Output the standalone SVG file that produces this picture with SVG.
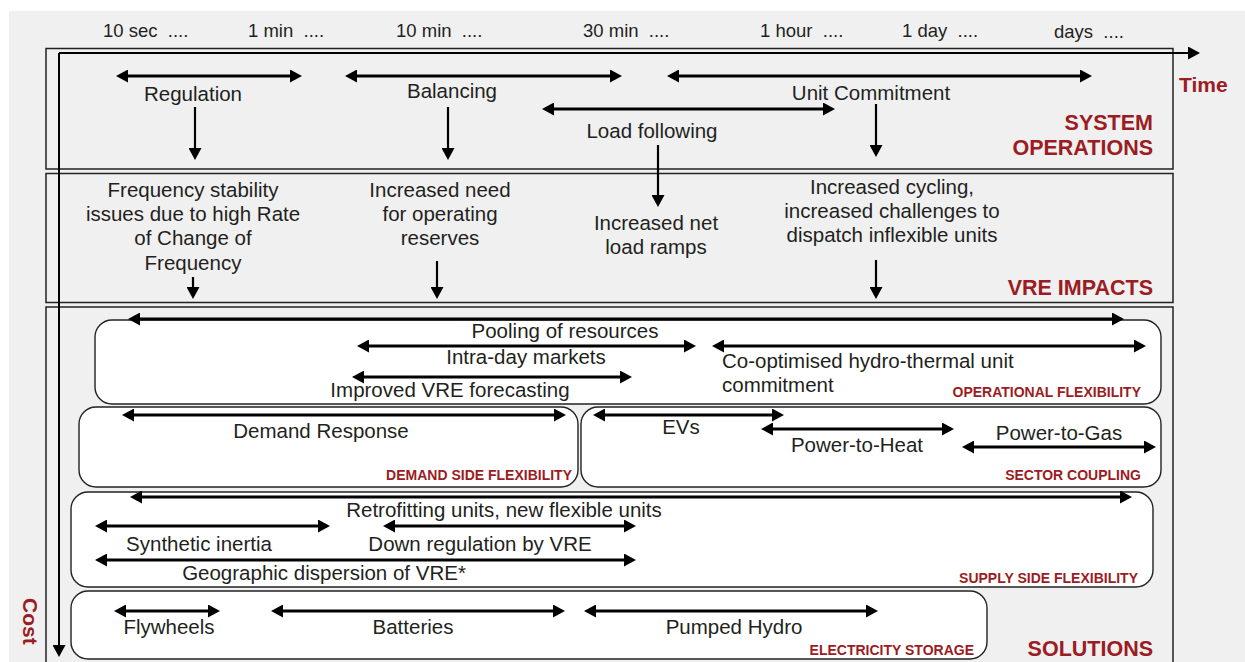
<svg xmlns="http://www.w3.org/2000/svg" width="1245" height="662" viewBox="0 0 1245 662">
  <style>
    .bg { fill: #f0f0f0; }
    .section { fill: #f0f0f0; stroke: #222; stroke-width: 1.5; }
    .panel { fill: #ffffff; stroke: #222; stroke-width: 1.4; }
    .t { font-family: "Liberation Sans", Arial, sans-serif; font-size: 20.5px; fill: #231f20; }
    .tick { font-family: "Liberation Sans", Arial, sans-serif; font-size: 18.5px; fill: #231f20; }
    .mid { text-anchor: middle; }
    .head { font-family: "Liberation Sans", Arial, sans-serif; font-weight: bold; font-size: 21.5px; fill: #9b1c22; text-anchor: end; }
    .tag { font-family: "Liberation Sans", Arial, sans-serif; font-weight: bold; font-size: 14px; fill: #9b1c22; text-anchor: end; }
    .axislabel { font-family: "Liberation Sans", Arial, sans-serif; font-weight: bold; font-size: 21px; fill: #9b1c22; }
    .arr { stroke: #000; stroke-width: 2.8; fill: none; marker-end: url(#ah); }
    .both { marker-start: url(#ah); }
    .down { stroke: #000; stroke-width: 2.2; fill: none; marker-end: url(#ah); }
    .axis { stroke: #000; stroke-width: 2; fill: none; marker-end: url(#ah); }
  </style>
  <defs>
    <marker id="ah" viewBox="0 0 12 13" refX="2" refY="6.5" markerWidth="12" markerHeight="13" markerUnits="userSpaceOnUse" orient="auto-start-reverse">
      <path d="M0,0 L12,6.5 L0,13 z" fill="#000"/>
    </marker>
  </defs>

  <rect class="bg" x="9" y="11" width="1236" height="651"/>

  <!-- time scale -->
  <g id="time-scale">
    <text class="tick" x="103" y="37">10 sec&#160; ....</text>
    <text class="tick" x="248" y="37">1 min&#160; ....</text>
    <text class="tick" x="396" y="37">10 min&#160; ....</text>
    <text class="tick" x="583" y="37">30 min&#160; ....</text>
    <text class="tick" x="760" y="37">1 hour&#160; ....</text>
    <text class="tick" x="902" y="37">1 day&#160; ....</text>
    <text class="tick" x="1054" y="38">days&#160; ....</text>
  </g>

  <!-- sections -->
  <g id="system-operations">
    <rect class="section" x="46" y="48.5" width="1127" height="120.5"/>
    <text class="head" x="1153" y="130">SYSTEM</text>
    <text class="head" x="1153" y="155">OPERATIONS</text>
    <text class="t mid" x="193" y="101">Regulation</text>
    <text class="t mid" x="452" y="98">Balancing</text>
    <text class="t mid" x="871" y="100">Unit Commitment</text>
    <text class="t mid" x="652" y="138">Load following</text>
  </g>

  <g id="vre-impacts">
    <rect class="section" x="46" y="173.5" width="1127" height="129"/>
    <text class="head" x="1153" y="295">VRE IMPACTS</text>
    <text class="t mid" x="193" y="197">Frequency stability</text>
    <text class="t mid" x="193" y="221">issues due to high Rate</text>
    <text class="t mid" x="193" y="245">of Change of</text>
    <text class="t mid" x="193" y="270">Frequency</text>
    <text class="t mid" x="440" y="197">Increased need</text>
    <text class="t mid" x="440" y="221">for operating</text>
    <text class="t mid" x="440" y="245">reserves</text>
    <text class="t mid" x="656" y="230">Increased net</text>
    <text class="t mid" x="656" y="254">load ramps</text>
    <text class="t mid" x="892" y="194">Increased cycling,</text>
    <text class="t mid" x="892" y="218">increased challenges to</text>
    <text class="t mid" x="892" y="242">dispatch inflexible units</text>
  </g>

  <g id="solutions">
    <rect class="section" x="46" y="307" width="1127" height="365"/>
    <text class="head" x="1153" y="656">SOLUTIONS</text>
  </g>

  <g id="operational-flexibility">
    <rect class="panel" x="95" y="320" width="1066" height="84" rx="17"/>
    <text class="t mid" x="565" y="338">Pooling of resources</text>
    <text class="t mid" x="526" y="364">Intra-day markets</text>
    <text class="t mid" x="450" y="397">Improved VRE forecasting</text>
    <text class="t" x="722" y="368">Co-optimised hydro-thermal unit</text>
    <text class="t" x="722" y="392">commitment</text>
    <text class="tag" x="1141" y="397">OPERATIONAL FLEXIBILITY</text>
  </g>

  <g id="demand-side-flexibility">
    <rect class="panel" x="79" y="407" width="499" height="80" rx="17"/>
    <text class="t mid" x="321" y="438">Demand Response</text>
    <text class="tag" x="572" y="480">DEMAND SIDE FLEXIBILITY</text>
  </g>

  <g id="sector-coupling">
    <rect class="panel" x="581" y="407" width="580" height="80" rx="17"/>
    <text class="t mid" x="681" y="434">EVs</text>
    <text class="t mid" x="857" y="452">Power-to-Heat</text>
    <text class="t mid" x="1059" y="440">Power-to-Gas</text>
    <text class="tag" x="1141" y="480">SECTOR COUPLING</text>
  </g>

  <g id="supply-side-flexibility">
    <rect class="panel" x="71" y="492" width="1082" height="95" rx="17"/>
    <text class="t mid" x="504" y="517">Retrofitting units, new flexible units</text>
    <text class="t mid" x="199" y="551">Synthetic inertia</text>
    <text class="t mid" x="480" y="551">Down regulation by VRE</text>
    <text class="t mid" x="324" y="580">Geographic dispersion of VRE*</text>
    <text class="tag" x="1138" y="583">SUPPLY SIDE FLEXIBILITY</text>
  </g>

  <g id="electricity-storage">
    <rect class="panel" x="71" y="591" width="916" height="68" rx="17"/>
    <text class="t mid" x="169" y="634">Flywheels</text>
    <text class="t mid" x="413" y="634">Batteries</text>
    <text class="t mid" x="734" y="634">Pumped Hydro</text>
    <text class="tag" x="974" y="655">ELECTRICITY STORAGE</text>
  </g>

  <!-- axes -->
  <g id="axes">
    <line class="axis" x1="59" y1="53" x2="1190" y2="53"/>
    <line class="axis" x1="59" y1="53" x2="59" y2="647"/>
    <text class="axislabel" x="1179" y="92">Time</text>
    <text class="axislabel" transform="translate(23 598) rotate(90)">Cost</text>
  </g>

  <!-- connectors -->
  <g id="connectors">
    <!-- timescale ranges of system operations -->
    <line class="arr both" x1="126" y1="76" x2="292" y2="76"/>
    <line class="arr both" x1="355" y1="76" x2="612" y2="76"/>
    <line class="arr both" x1="677" y1="76" x2="1082" y2="76"/>
    <line class="arr both" x1="552" y1="109" x2="825" y2="109"/>
    <!-- operations to impacts -->
    <line class="down" x1="195" y1="107" x2="195" y2="150"/>
    <line class="down" x1="448" y1="107" x2="448" y2="150"/>
    <line class="down" x1="876" y1="104" x2="876" y2="147"/>
    <line class="down" x1="658" y1="145" x2="658" y2="197"/>
    <!-- impacts to solutions -->
    <line class="down" x1="193" y1="277" x2="193" y2="289"/>
    <line class="down" x1="437" y1="261" x2="437" y2="289"/>
    <line class="down" x1="876" y1="260" x2="876" y2="289"/>
    <!-- operational flexibility -->
    <line class="arr both" x1="138" y1="319" x2="1114" y2="319"/>
    <line class="arr both" x1="367" y1="346" x2="686" y2="346"/>
    <line class="arr both" x1="362" y1="377" x2="622" y2="377"/>
    <line class="arr both" x1="722" y1="346" x2="1136" y2="346"/>
    <!-- demand side / sector coupling -->
    <line class="arr both" x1="132" y1="415" x2="556" y2="415"/>
    <line class="arr both" x1="603" y1="415" x2="774" y2="415"/>
    <line class="arr both" x1="771" y1="429" x2="944" y2="429"/>
    <line class="arr both" x1="972" y1="447" x2="1146" y2="447"/>
    <!-- supply side -->
    <line class="arr both" x1="140" y1="497" x2="1122" y2="497"/>
    <line class="arr both" x1="105" y1="526" x2="320" y2="526"/>
    <line class="arr both" x1="393" y1="526" x2="626" y2="526"/>
    <line class="arr both" x1="105" y1="560" x2="626" y2="560"/>
    <!-- storage -->
    <line class="arr both" x1="124" y1="611" x2="210" y2="611"/>
    <line class="arr both" x1="281" y1="611" x2="555" y2="611"/>
    <line class="arr both" x1="594" y1="611" x2="868" y2="611"/>
  </g>
</svg>
